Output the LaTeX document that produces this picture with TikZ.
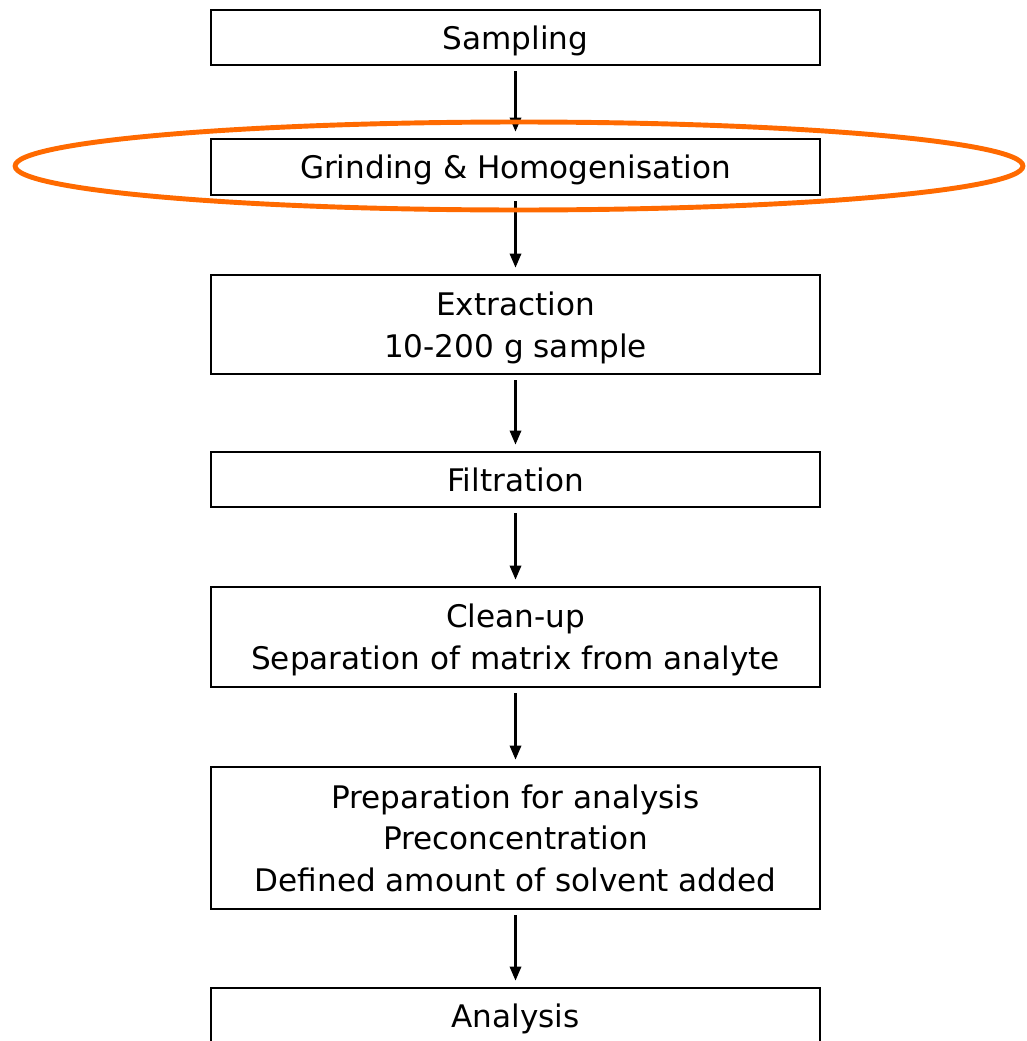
\documentclass[tikz,border=0pt]{standalone}
\usepackage{fontspec}
\setmainfont{DejaVu Sans}
\usetikzlibrary{arrows.meta}
\definecolor{hiorange}{HTML}{FF6A00}
\tikzset{
  stagebox/.style={draw, line width=1.6pt, minimum width=12.18cm, align=center,
    inner sep=0pt, text depth=0pt, font=\fontsize{17.7}{23.8}\selectfont},
  flow/.style={-{Triangle[length=8pt,width=6.5pt]}, line width=1.2pt,
    shorten <=0.1cm, shorten >=0.12cm},
  hilite/.style={draw=hiorange, line width=2.8pt}
}
\begin{document}
\begin{tikzpicture}[x=0.02cm,y=-0.02cm]
  \useasboundingbox (0,0) rectangle (1027,1041);
  \node[stagebox, minimum height=1.1cm]  (smp)  at (515.5,37.5) {Sampling};
  \node[stagebox, minimum height=1.12cm] (grd)  at (515.5,167)  {Grinding \& Homogenisation};
  \node[stagebox, minimum height=1.98cm] (ext)  at (515.5,324.5) {Extraction\\10-200 g sample};
  \node[stagebox, minimum height=1.1cm]  (flt)  at (515.5,479.5) {Filtration};
  \node[stagebox, minimum height=2.0cm]  (cln)  at (515.5,637)  {Clean-up\\Separation of matrix from analyte};
  \node[stagebox, minimum height=2.84cm] (prep) at (515.5,838)  {Preparation for analysis\\Preconcentration\\Defined amount of solvent added};
  \node[stagebox, minimum height=1.1cm]  (ana)  at (515.5,1015.5) {Analysis};
  % steps
  \foreach \a/\b in {smp/grd, grd/ext, ext/flt, flt/cln, cln/prep, prep/ana}
    \draw[flow] (\a) -- (\b);
  % highlight
  \draw[hilite] (519,166) ellipse [x radius=10.08cm, y radius=0.88cm];
\end{tikzpicture}
\end{document}
